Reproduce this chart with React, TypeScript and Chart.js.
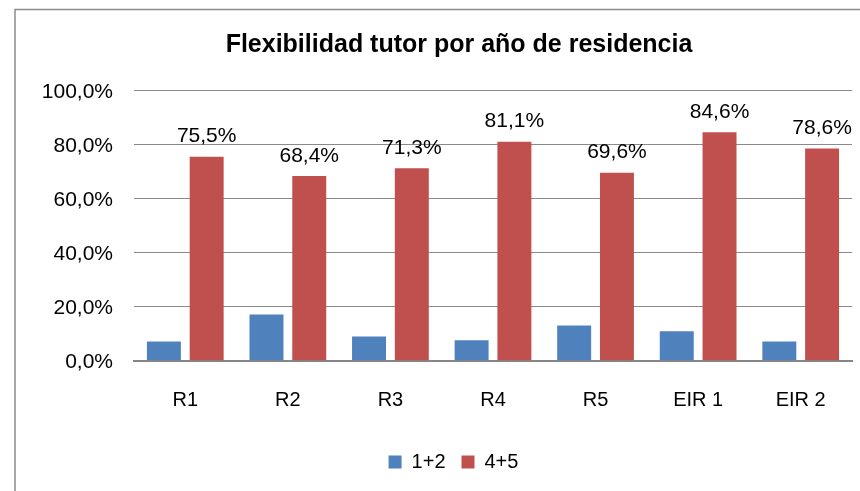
import React, { useEffect, useRef } from 'react';
import { Chart, registerables } from 'chart.js';

Chart.register(...registerables);

const titleText = 'Flexibilidad tutor por año de residencia';
const categories = ['R1', 'R2', 'R3', 'R4', 'R5', 'EIR 1', 'EIR 2'];
const seriesNames = ['1+2', '4+5'];
const seriesLow = [7.1, 17.1, 9.0, 7.6, 13.0, 10.9, 7.1];
const seriesHigh = [75.5, 68.4, 71.3, 81.1, 69.6, 84.6, 78.6];
const yMin = 0;
const yMax = 100;
const yStep = 20;

const FONT = "'Liberation Sans', Arial, sans-serif";
const fmt = (v: number) => v.toFixed(1).replace('.', ',') + '%';

const framePlugin = {
  id: 'frame',
  beforeDraw(chart: any) {
    const ctx = chart.ctx;
    ctx.save();
    ctx.strokeStyle = '#8c8c8c';
    ctx.lineWidth = 1.5;
    ctx.beginPath();
    ctx.moveTo(15, 491);
    ctx.lineTo(15, 9.5);
    ctx.lineTo(860, 9.5);
    ctx.stroke();
    ctx.restore();
  },
};

const shiftPlugin = {
  id: 'shiftBoxes',
  afterLayout(chart: any) {
    const t = chart.titleBlock;
    if (t) {
      t.left = 15;
      t.right = 903;
      t.width = t.right - t.left;
    }
    const l = chart.legend;
    if (l) {
      l.left = 15;
      l.right = 892;
      l.width = l.right - l.left;
    }
  },
};

const labelPlugin = {
  id: 'valueLabels',
  afterDatasetsDraw(chart: any) {
    const ctx = chart.ctx;
    const meta = chart.getDatasetMeta(1);
    ctx.save();
    ctx.font = `21px ${FONT}`;
    ctx.fillStyle = '#000000';
    ctx.textAlign = 'center';
    ctx.textBaseline = 'alphabetic';
    meta.data.forEach((el: any, i: number) => {
      ctx.fillText(fmt(seriesHigh[i]), el.x, el.y - 14.5);
    });
    ctx.restore();
  },
};

export default function App() {
  const ref = useRef<HTMLCanvasElement | null>(null);
  useEffect(() => {
    if (!ref.current) return;
    const chart = new Chart(ref.current, {
      type: 'bar',
      data: {
        labels: categories,
        datasets: [
          {
            label: seriesNames[0],
            data: seriesLow,
            backgroundColor: '#4F81BD',
            categoryPercentage: 0.834,
            barPercentage: 0.794,
          },
          {
            label: seriesNames[1],
            data: seriesHigh,
            backgroundColor: '#C0504D',
            categoryPercentage: 0.834,
            barPercentage: 0.794,
          },
        ],
      },
      options: {
        responsive: false,
        animation: false,
        devicePixelRatio: 1,
        layout: { padding: { left: 0, right: 8, top: 0, bottom: 9 } },
        plugins: {
          title: {
            display: true,
            text: titleText,
            color: '#000000',
            font: { family: FONT, size: 25, weight: 'bold', lineHeight: 1.2 },
            padding: { top: 30, bottom: 30.7 },
          },
          legend: {
            display: true,
            position: 'bottom',
            labels: {
              boxWidth: 13,
              boxHeight: 13,
              padding: 16,
              color: '#000000',
              font: { family: FONT, size: 20 },
            },
          },
          tooltip: { enabled: false },
        },
        scales: {
          x: {
            grid: { display: false, drawTicks: false },
            border: { display: true, color: '#868686', width: 2 },
            ticks: {
              color: '#000000',
              font: { family: FONT, size: 20 },
              padding: 28,
            },
            afterFit(s: any) {
              s.height = 75.3;
            },
          },
          y: {
            min: yMin,
            max: yMax,
            grid: { color: '#8a8a8a', lineWidth: 1, drawTicks: false },
            border: { display: false },
            ticks: {
              stepSize: yStep,
              color: '#000000',
              font: { family: FONT, size: 21 },
              padding: 21,
              labelOffset: 2,
              callback: (v: any) => fmt(Number(v)),
            },
            afterFit(s: any) {
              s.width = 134;
            },
          },
        },
      },
      plugins: [framePlugin, shiftPlugin, labelPlugin],
    });
    return () => chart.destroy();
  }, []);
  return (
    <div style={{ position: 'absolute', left: 0, top: 0, width: 860, height: 491, background: '#ffffff' }}>
      <canvas ref={ref} width={860} height={491} style={{ display: 'block' }} />
    </div>
  );
}
